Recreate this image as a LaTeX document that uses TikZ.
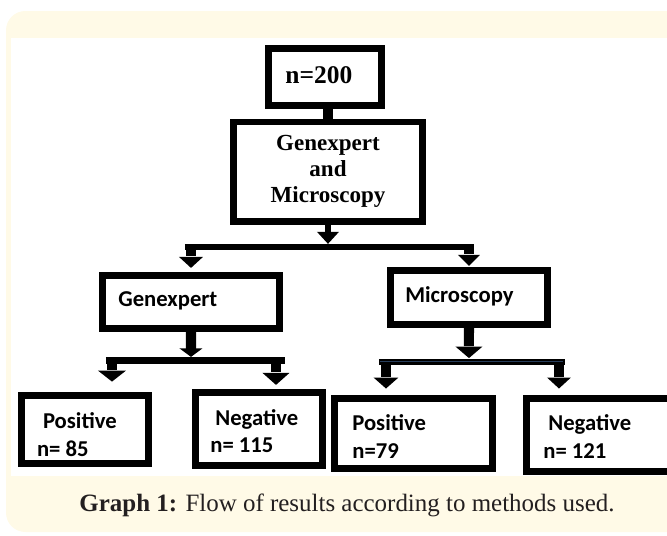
\documentclass[tikz,border=0pt]{standalone}
\usepackage{fontspec}
\setmainfont{Liberation Serif}
\newfontfamily\calfont{Carlito}
\newfontfamily\timesfont{Liberation Serif}
\usetikzlibrary{calc}
\definecolor{cream}{RGB}{255,250,231}
\definecolor{capgray}{RGB}{35,31,32}
\definecolor{barblue}{RGB}{40,62,92}

\begin{document}
\begin{tikzpicture}[scale=0.2]
\tikzstyle{every node}+=[inner sep=0pt]
\tikzset{
  box/.style={draw=black, line width=3.8pt, fill=white},
  lbl/.style={anchor=base west, font=\calfont\bfseries\fontsize{12.9}{15}\selectfont},
  stem/.style={black, line width=5.7pt},
  bar/.style={black, line width=3.8pt}
}
\useasboundingbox (0,0) rectangle (66.7,-53.6);
\clip (0,0) rectangle (66.7,-53.6);
% page
\fill [cream, rounded corners=11pt] (0.6,-1.1) rectangle (72,-53.2);
\fill [white] (1.1,-3.8) rectangle (72,-47.6);
% boxes
\node [box, minimum width=2.27cm, minimum height=1.15cm] (n200) at (32.5,-7.7) {};
\node [anchor=base west, font=\timesfont\bfseries\fontsize{14.5}{17}\selectfont] (n200txt) at (28.5,-8.3) {n=200};
\node [box, minimum width=3.79cm, minimum height=1.99cm, align=center, yshift=-1pt,
  font=\timesfont\bfseries\fontsize{13.1}{14.8}\selectfont] (both) at (32.8,-17.0) {Genexpert\\and\\Microscopy};
\node [box, minimum width=3.55cm, minimum height=1.07cm] (gx) at (19.1,-30.2) {};
\node [lbl] (gxtxt) at (11.8,-30.6) {Genexpert};
\node [box, minimum width=3.15cm, minimum height=1.09cm] (mic) at (46.9,-29.75) {};
\node [lbl] (mictxt) at (40.5,-30.2) {Microscopy};
\node [box, minimum width=2.55cm, minimum height=1.37cm] (gxpos) at (8.5,-42.95) {};
\node [lbl] (gxpos1) at (4.27,-42.8) {Positive};
\node [lbl] (gxpos2) at (3.67,-45.6) {n= 85};
\node [box, minimum width=2.55cm, minimum height=1.47cm] (gxneg) at (25.9,-42.9) {};
\node [lbl] (gxneg1) at (21.5,-42.5) {Negative};
\node [lbl] (gxneg2) at (21.0,-45.2) {n= 115};
\node [box, minimum width=3.17cm, minimum height=1.41cm] (mipos) at (41.35,-43.35) {};
\node [lbl] (mipos1) at (35.2,-43.0) {Positive};
\node [lbl] (mipos2) at (35.2,-45.8) {n=79};
\node [box, minimum width=3.11cm, minimum height=1.47cm] (mineg) at (60.4,-43.5) {};
\node [lbl] (mineg1) at (54.8,-43.0) {Negative};
\node [lbl] (mineg2) at (54.3,-45.8) {n= 121};
% n=200 to both
\draw [black, line width=5.4pt] (both.north) -- (both.north |- n200.south);
% first split
\coordinate (j1) at ($(both.south)+(0,-2.23)$);
\draw [black, line width=3pt] (both.south) -- ($(both.south)+(0,-0.8)$);
\fill [black] ($(both.south)+(-1.1,-0.7)$) -- ++(2.2,0) -- ++(-1.1,-1.2) -- cycle;
\draw [bar] ($(j1 -| gx.north)+(-0.6,0)$) -- ($(j1 -| mic.north)+(0.5,0)$);
\draw [stem] (j1 -| gx.north) -- ($(gx.north)+(0,1.6)$);
\fill [black] ($(gx.north)+(-1.2,1.5)$) -- ++(2.4,0) -- ++(-1.2,-1.1) -- cycle;
\draw [stem] (j1 -| mic.north) -- ($(mic.north)+(0,1.3)$);
\fill [black] ($(mic.north)+(-1.1,1.2)$) -- ++(2.2,0) -- ++(-1.1,-1.1) -- cycle;
% Genexpert split
\coordinate (j2) at ($(gx.south)+(0,-2.83)$);
\draw [bar] ($(j2 -| gxpos.north)+(2.1,0)$) -- ($(j2 -| gxneg.north)+(2.6,0)$);
\draw [stem] (gx.south) -- ($(j2)+(0,1.1)$);
\fill [black] ($(j2)+(-1.15,1.2)$) -- ++(2.3,0) -- ++(-1.15,-0.85) -- cycle;
\draw [stem] ($(j2 -| gxpos.north)+(2.7,0)$) -- ($(gxpos.north)+(2.7,2.2)$);
\fill [black] ($(gxpos.north)+(1.3,2.13)$) -- ++(2.8,0) -- ++(-1.4,-1.1) -- cycle;
\draw [stem] ($(j2 -| gxneg.north)+(1.7,0)$) -- ($(gxneg.north)+(1.7,1.7)$);
\fill [black] ($(gxneg.north)+(0.35,1.6)$) -- ++(2.7,0) -- ++(-1.35,-1.2) -- cycle;
% Microscopy split
\coordinate (j3) at ($(mic.south)+(0,-3.4)$);
\draw [bar] ($(j3 -| mipos.north)+(-3.45,0)$) -- ($(j3 -| mineg.north)+(-3.9,0)$);
\draw [barblue, line width=0.8pt] ($(j3 -| mipos.north)+(-3.3,0.05)$) -- ($(j3 -| mineg.north)+(-4.05,0.05)$);
\draw [stem] (mic.south) -- ($(j3)+(0,1.6)$);
\fill [black] ($(j3)+(-1.35,1.55)$) -- ++(2.7,0) -- ++(-1.35,-1.15) -- cycle;
\draw [stem] ($(j3 -| mipos.north)+(-2.75,0)$) -- ($(mipos.north)+(-2.75,1.8)$);
\fill [black] ($(mipos.north)+(-4.0,1.74)$) -- ++(2.5,0) -- ++(-1.25,-1.1) -- cycle;
\draw [stem] ($(j3 -| mineg.north)+(-4.5,0)$) -- ($(mineg.north)+(-4.5,1.8)$);
\fill [black] ($(mineg.north)+(-5.7,1.74)$) -- ++(2.4,0) -- ++(-1.2,-1.1) -- cycle;
% caption
\node [anchor=base, text=capgray, font=\fontsize{14.2}{17}\selectfont] (cap) at (34.7,-51.1)
  {\textbf{Graph 1:} Flow of results according to methods used.};
\end{tikzpicture}
\end{document}
